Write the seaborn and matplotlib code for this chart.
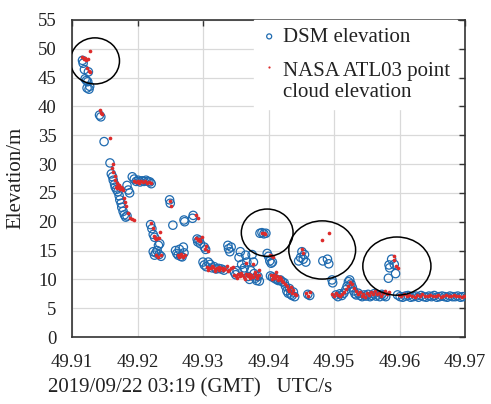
import numpy as np
import pandas as pd
import matplotlib
matplotlib.use("Agg")
import matplotlib.pyplot as plt
import seaborn as sns
from matplotlib.patches import Ellipse

# ---------------- data ----------------
dsm_x = [49.9116, 49.9117, 49.9119, 49.9125, 49.9120, 49.9122, 49.9124, 49.9123, 49.9127, 49.9126,
         49.9142, 49.9144, 49.9149, 49.9158,
         49.9160, 49.9162, 49.9163, 49.9165, 49.9166, 49.9168, 49.9170, 49.9172, 49.9173, 49.9175,
         49.9176, 49.9178, 49.9180, 49.9182, 49.9184, 49.9186, 49.9188, 49.9184, 49.9192,
         49.9195, 49.9198, 49.9201, 49.9204, 49.9207, 49.9210, 49.9213, 49.9216, 49.9219, 49.9221,
         49.9220, 49.9222, 49.9224, 49.9226, 49.9224, 49.9226, 49.9228, 49.9230, 49.9232, 49.9234, 49.9233, 49.9236,
         49.9249, 49.9250, 49.9254, 49.9271, 49.9272, 49.9285, 49.9284,
         49.9258, 49.9260, 49.9262, 49.9264, 49.9266, 49.9268, 49.9270, 49.9271,
         49.9291, 49.9292, 49.9294, 49.9296, 49.9302, 49.9304, 49.9300, 49.9302, 49.9305, 49.9308,
         49.9311, 49.9314, 49.9317, 49.9320, 49.9324, 49.9328, 49.9332,
         49.9338, 49.9339, 49.9341, 49.9343,
         49.9348, 49.9350, 49.9352, 49.9355, 49.9357, 49.9359, 49.9361, 49.9363, 49.9365, 49.9367,
         49.9369, 49.9371, 49.9373, 49.9375, 49.9377, 49.9378, 49.9380, 49.9382, 49.9384, 49.9386,
         49.9387, 49.9390, 49.9393, 49.9396,
         49.9398, 49.9400, 49.9402, 49.9404, 49.9406,
         49.9403, 49.9406, 49.9409, 49.9412, 49.9415, 49.9418, 49.9421, 49.9424,
         49.9426, 49.9428, 49.9430, 49.9432, 49.9434, 49.9436, 49.9438, 49.9440,
         49.9460, 49.9463,
         49.9446, 49.9449, 49.9451, 49.9453, 49.9455, 49.9457,
         49.9483, 49.9490, 49.9492, 49.9497, 49.9498,
         49.9503, 49.9506, 49.9509, 49.9512, 49.9515, 49.9518, 49.9520, 49.9522, 49.9524, 49.9526,
         49.9528, 49.9530, 49.9532, 49.9534, 49.9537, 49.9540, 49.9543, 49.9546, 49.9549, 49.9552,
         49.9555, 49.9558, 49.9561, 49.9564, 49.9567, 49.9570, 49.9573, 49.9576, 49.9579,
         49.9588, 49.9584, 49.9585, 49.9592, 49.9594, 49.9583,
         49.9597, 49.9601, 49.9605, 49.9609, 49.9613, 49.9617, 49.9621, 49.9625, 49.9629, 49.9633,
         49.9637, 49.9641, 49.9645, 49.9649, 49.9653, 49.9657, 49.9661, 49.9665, 49.9669, 49.9673,
         49.9677, 49.9681, 49.9685, 49.9689, 49.9693, 49.9697]
dsm_y = [48.0, 47.5, 46.4, 46.0, 44.8, 44.5, 44.3, 43.2, 43.5, 43.0,
         38.5, 38.2, 33.9, 30.2,
         28.3, 27.8, 27.2, 26.5, 26.0, 25.6, 25.2, 24.5, 23.8, 23.2,
         22.5, 21.8, 21.2, 20.8, 21.0, 25.5, 25.0, 26.3, 27.8,
         27.4, 27.0, 27.2, 26.9, 27.1, 27.0, 27.2, 27.0, 26.9, 26.6,
         19.5, 18.8, 17.8, 17.3, 14.8, 14.2, 14.6, 15.0, 15.9, 16.2, 14.3, 14.0,
         23.8, 23.2, 19.4, 20.3, 20.0, 21.1, 20.6,
         15.0, 14.5, 14.2, 15.2, 14.0, 13.9, 15.6, 14.6,
         17.0, 16.5, 16.8, 16.2, 15.6, 15.2, 13.0, 12.5, 12.2, 13.0,
         12.6, 12.0, 12.2, 11.8, 11.9, 11.8, 11.6,
         15.9, 15.3, 14.8, 15.6,
         11.2, 10.8, 11.5, 13.8, 14.8, 12.6, 11.5, 12.0, 14.2, 13.0,
         10.5, 10.0, 11.5, 14.3, 13.0, 11.0, 10.2, 9.8, 10.5, 9.7,
         18.0, 18.1, 17.9, 18.0,
         14.5, 14.0, 13.2, 12.8, 13.0,
         10.6, 10.4, 10.2, 10.0, 9.8, 9.9, 9.6, 9.4,
         8.8, 8.0, 7.6, 8.4, 7.4, 7.2, 7.8, 7.0,
         7.4, 7.2,
         13.2, 13.8, 14.8, 13.5, 14.3, 13.0,
         13.2, 13.5, 12.7, 9.9, 9.4,
         7.3, 7.0, 7.5, 7.2, 7.6, 8.2, 8.8, 9.6, 9.9, 9.2,
         8.6, 8.0, 7.5, 7.3, 7.6, 7.2, 7.0, 7.3, 7.1, 7.4,
         7.0, 7.2, 7.5, 7.1, 7.3, 7.0, 7.4, 7.2, 7.0,
         13.5, 12.5, 12.0, 12.6, 11.0, 10.2,
         7.3, 7.0, 6.9, 7.1, 7.2, 6.9, 7.0, 7.1, 6.9, 7.2,
         7.0, 6.9, 7.1, 7.0, 7.2, 6.9, 7.0, 7.1, 7.0, 6.9,
         7.1, 7.0, 7.0, 7.1, 6.9, 7.0]

atl_x = [49.9116, 49.9118, 49.9120, 49.9122, 49.9124, 49.9127, 49.9123, 49.9126, 49.9128,
         49.9142, 49.9144, 49.9146, 49.9158, 49.9162, 49.9161,
         49.9163, 49.9165, 49.9166, 49.9168, 49.9170, 49.9172, 49.9174, 49.9176, 49.9178, 49.9179,
         49.9181, 49.9183, 49.9185, 49.9188, 49.9192, 49.9195,
         49.9167, 49.9169, 49.9171, 49.9173, 49.9175,
         49.9194, 49.9197, 49.9200, 49.9203, 49.9206, 49.9209, 49.9212, 49.9215, 49.9218, 49.9221,
         49.9221, 49.9223, 49.9225, 49.9227, 49.9229, 49.9231, 49.9233, 49.9235, 49.9228, 49.9232, 49.9236,
         49.9250, 49.9251, 49.9262, 49.9264, 49.9266, 49.9268, 49.9270, 49.9272,
         49.9290, 49.9292,
         49.9290, 49.9292, 49.9294, 49.9296, 49.9298, 49.9303, 49.9305, 49.9307,
         49.9306, 49.9309, 49.9312, 49.9315, 49.9318, 49.9321, 49.9324, 49.9327, 49.9330, 49.9333,
         49.9336, 49.9340, 49.9343, 49.9346,
         49.9308, 49.9313, 49.9319, 49.9325, 49.9331, 49.9338,
         49.9348, 49.9350, 49.9353, 49.9356, 49.9359, 49.9362, 49.9365, 49.9368, 49.9371, 49.9374,
         49.9377, 49.9380, 49.9383, 49.9386, 49.9366, 49.9376, 49.9385,
         49.9352, 49.9358, 49.9364, 49.9370, 49.9379, 49.9382,
         49.9390, 49.9393, 49.9395,
         49.9402, 49.9405, 49.9407,
         49.9404, 49.9407, 49.9410, 49.9413, 49.9416, 49.9419, 49.9422, 49.9425, 49.9411,
         49.9405, 49.9409, 49.9414, 49.9418, 49.9421,
         49.9428, 49.9430, 49.9432, 49.9434, 49.9436, 49.9438, 49.9440, 49.9442,
         49.9458, 49.9461, 49.9464,
         49.9451, 49.9452, 49.9482, 49.9492,
         49.9497, 49.9500, 49.9503, 49.9506, 49.9509, 49.9512, 49.9515, 49.9518, 49.9521, 49.9524,
         49.9527, 49.9530, 49.9533, 49.9536, 49.9539, 49.9542, 49.9545, 49.9548, 49.9551, 49.9554,
         49.9557, 49.9560, 49.9563, 49.9566, 49.9569, 49.9572, 49.9575, 49.9578, 49.9581, 49.9584,
         49.9591, 49.9592, 49.9595, 49.9597,
         49.9599, 49.9603, 49.9607, 49.9611, 49.9615, 49.9619, 49.9623, 49.9627, 49.9631, 49.9635,
         49.9639, 49.9643, 49.9647, 49.9651, 49.9655, 49.9659, 49.9663, 49.9667, 49.9671, 49.9675,
         49.9679, 49.9683, 49.9687, 49.9691, 49.9695, 49.9699]
atl_y = [48.5, 48.3, 48.4, 48.1, 48.2, 49.6, 46.7, 46.1, 45.9,
         39.4, 38.9, 38.7, 34.5, 30.0, 29.3,
         28.6, 27.9, 27.3, 26.8, 26.3, 26.0, 25.7, 25.9, 25.5, 24.2,
         23.5, 22.8, 21.5, 20.6, 20.4, 20.3,
         26.1, 25.8, 26.4, 25.6, 26.0,
         27.0, 26.9, 27.0, 26.8, 27.0, 26.9, 27.0, 26.8, 26.9, 26.7,
         19.8, 18.9, 17.5, 17.2, 17.0, 17.2, 17.1, 18.3, 14.2, 13.9, 14.3,
         23.6, 22.8, 14.2, 13.9, 14.4, 14.0, 13.8, 14.2,
         21.2, 20.7,
         17.2, 16.9, 17.0, 16.6, 17.4, 15.2, 15.8, 14.9,
         12.2, 12.0, 11.9, 12.1, 11.8, 12.0, 11.7, 11.9, 11.6, 11.8,
         12.3, 11.7, 11.9, 12.1,
         11.7, 12.3, 11.5, 12.2, 11.9, 11.5,
         10.8, 10.5, 10.9, 10.6, 10.8, 10.4, 11.0, 10.5, 10.3, 10.7,
         10.4, 11.2, 10.3, 10.8, 12.8, 12.6, 11.6,
         10.2, 11.1, 10.1, 10.9, 10.9, 10.6,
         18.0, 18.1, 17.9,
         14.2, 14.0, 13.8,
         10.8, 10.5, 10.3, 10.6, 10.2, 10.0, 9.6, 9.2, 11.2,
         10.1, 10.8, 9.9, 10.4, 9.8,
         8.9, 8.4, 8.0, 8.6, 7.7, 8.1, 7.5, 7.3,
         7.6, 7.2, 7.8,
         15.3, 14.6, 16.8, 18.1,
         7.4, 7.2, 7.6, 7.3, 7.1, 7.5, 7.8, 8.4, 8.9, 9.6,
         9.2, 8.5, 7.9, 7.5, 7.8, 7.2, 7.5, 6.9, 7.6, 7.3,
         7.8, 7.4, 8.0, 7.5, 7.7, 7.2, 7.6, 7.9, 7.4, 7.8,
         14.0, 13.3, 12.3, 11.9,
         7.3, 7.2, 7.4, 7.1, 7.3, 7.2, 7.0, 7.3, 7.2, 7.4,
         7.1, 7.2, 7.3, 7.1, 7.2, 7.3, 7.0, 7.2, 7.3, 7.1,
         7.2, 7.3, 7.1, 7.2, 7.0, 7.2]

# highlighted regions (center x, center y, width, height)
circle_cx = [49.9135, 49.9398, 49.9482, 49.9596]
circle_cy = [47.9, 18.1, 15.1, 12.3]
circle_w = [0.0075, 0.0079, 0.0102, 0.0104]
circle_h = [8.0, 8.2, 10.1, 10.1]

x_ticks = [49.91, 49.92, 49.93, 49.94, 49.95, 49.96, 49.97]
y_ticks = [0, 5, 10, 15, 20, 25, 30, 35, 40, 45, 50, 55]

label_dsm = "DSM elevation"
label_atl = "NASA ATL03 point\ncloud elevation"

# ---------------- plot ----------------
sns.set_theme(style="white")
plt.rcParams["font.family"] = ["Liberation Serif", "DejaVu Serif"]

fig = plt.figure(figsize=(4.91, 4.04), dpi=100)
ax = fig.add_axes([72 / 491, 1 - 337 / 404, 393 / 491, 317 / 404])

df_dsm = pd.DataFrame({"x": dsm_x, "y": dsm_y})
df_atl = pd.DataFrame({"x": atl_x, "y": atl_y})

sns.scatterplot(data=df_dsm, x="x", y="y", ax=ax, marker="o", s=36,
                facecolors="none", edgecolor="#1f6bb0", linewidth=0.9,
                label=label_dsm, zorder=3)
sns.scatterplot(data=df_atl, x="x", y="y", ax=ax, marker="o", s=7,
                color="#dd2b2b", linewidth=0, label=label_atl, zorder=4)

for cx, cy, w, h in zip(circle_cx, circle_cy, circle_w, circle_h):
    ax.add_patch(Ellipse((cx, cy), w, h, fill=False, edgecolor="black",
                         linewidth=1.1, zorder=5))

ax.set_xlim(49.91, 49.97)
ax.set_ylim(0, 55)
ax.set_xticks(x_ticks)
ax.set_xticklabels([f"{v:.2f}" for v in x_ticks])
ax.set_yticks(y_ticks)
ax.grid(True, color="#d9d9d9", linewidth=0.9)
ax.set_axisbelow(True)
for s in ax.spines.values():
    s.set_color("#333333")
    s.set_linewidth(1.2)
ax.tick_params(direction="in", length=4, width=1, color="#333333",
               top=True, right=True, labelsize=13.5, labelcolor="#222222")
ax.tick_params(axis="x", pad=12)
ax.tick_params(axis="y", pad=11)
ax.set_xlabel("")
ax.set_ylabel("")
fig.text(16 / 491, 1 - 178 / 404, "Elevation/m", fontsize=15, color="#222222",
         rotation=90, ha="center", va="center")

fig.text(48 / 491, 1 - 388 / 404, "2019/09/22 03:19 (GMT)   UTC/s",
         fontsize=15, color="#222222", ha="left", va="center")

leg = ax.legend(loc="upper right", bbox_to_anchor=(0.98, 1.0), borderaxespad=0,
                fontsize=15, frameon=True, fancybox=False, framealpha=1,
                edgecolor="white", handletextpad=0.25, handlelength=0.8,
                borderpad=0.35, labelspacing=0.73, markerscale=0.6)
for t in leg.get_texts():
    t.set_color("#222222")
    t.set_linespacing(1.15)
# align the red handle with the first line of its two-line label
red_handle = leg.legend_handles[1]
offs = np.asarray(red_handle.get_offsets(), dtype=float).copy()
offs[:, 1] += 12
red_handle.set_offsets(offs)

fig.savefig("out.png", dpi=100)
